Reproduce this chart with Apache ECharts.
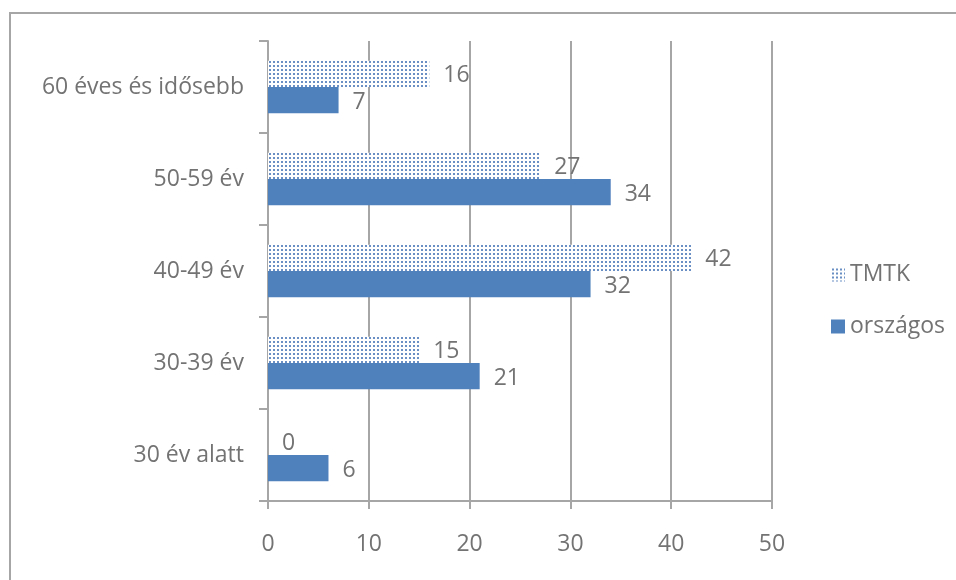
<!DOCTYPE html>
<html><head><meta charset="utf-8">
<script src="https://cdn.jsdelivr.net/npm/echarts@6/dist/echarts.min.js"></script>
<style>html,body{margin:0;padding:0;background:#fff}#c{width:956px;height:580px}</style>
</head><body><div id="c"></div>
<script>
var categories = ['30 év alatt', '30-39 év', '40-49 év', '50-59 év', '60 éves és idősebb'];
var tmtk = [0, 15, 42, 27, 16];
var orszagos = [6, 21, 32, 34, 7];
var seriesNames = ['TMTK', 'országos'];

var tile = document.createElement('canvas');
tile.width = 4; tile.height = 4;
var tc = tile.getContext('2d');
tc.fillStyle = '#ffffff'; tc.fillRect(0,0,4,4);
tc.fillStyle = '#6a8fc4';
tc.fillRect(1,1,2,2);

var chart = echarts.init(document.getElementById('c'), null, {renderer:'canvas'});
var font = "'Open Sans', 'Noto Sans', sans-serif";
var gray = '#737373';
var fs = 23;
chart.setOption({
  animation: false,
  textStyle: {fontFamily: font},
  grid: {left: 268, right: 184, top: 41, bottom: 79},
  legend: {
    orient: 'vertical', left: 826, top: 258, itemGap: 29,
    itemWidth: 14, itemHeight: 14, icon: 'rect',
    data: seriesNames,
    textStyle: {fontSize: fs, color: gray, fontFamily: font}
  },
  xAxis: {
    type: 'value', min: 0, max: 50, interval: 10,
    axisLine: {show: true, lineStyle: {color: '#a6a6a6', width: 2}},
    axisTick: {show: true, length: 8, lineStyle: {color: '#a6a6a6', width: 2}},
    splitLine: {show: true, lineStyle: {color: '#a6a6a6', width: 2}},
    axisLabel: {fontSize: fs, color: gray, margin: 32, fontFamily: font}
  },
  yAxis: {
    type: 'category', data: categories,
    axisLine: {show: true, lineStyle: {color: '#a6a6a6', width: 2}},
    axisTick: {show: true, length: 9, lineStyle: {color: '#a6a6a6', width: 2}},
    axisLabel: {fontSize: fs, color: gray, margin: 24, fontFamily: font}
  },
  series: [
    {name: seriesNames[0], type: 'bar', data: tmtk, barGap: '0%', barCategoryGap: '43%',
     itemStyle: {color: {image: tile, repeat: 'repeat'}},
     label: {show: true, position: 'right', distance: 14, offset: [0, 2], fontSize: fs, color: gray, fontFamily: font}},
    {name: seriesNames[1], type: 'bar', data: orszagos, barGap: '0%', barCategoryGap: '43%',
     itemStyle: {color: '#4f81bd'},
     label: {show: true, position: 'right', distance: 14, offset: [0, 2], fontSize: fs, color: gray, fontFamily: font}}
  ],
  graphic: [{
    type: 'rect', shape: {x: 10, y: 13, width: 1000, height: 1000},
    style: {fill: 'none', stroke: '#a6a6a6', lineWidth: 2}, silent: true
  }]
});
</script></body></html>
